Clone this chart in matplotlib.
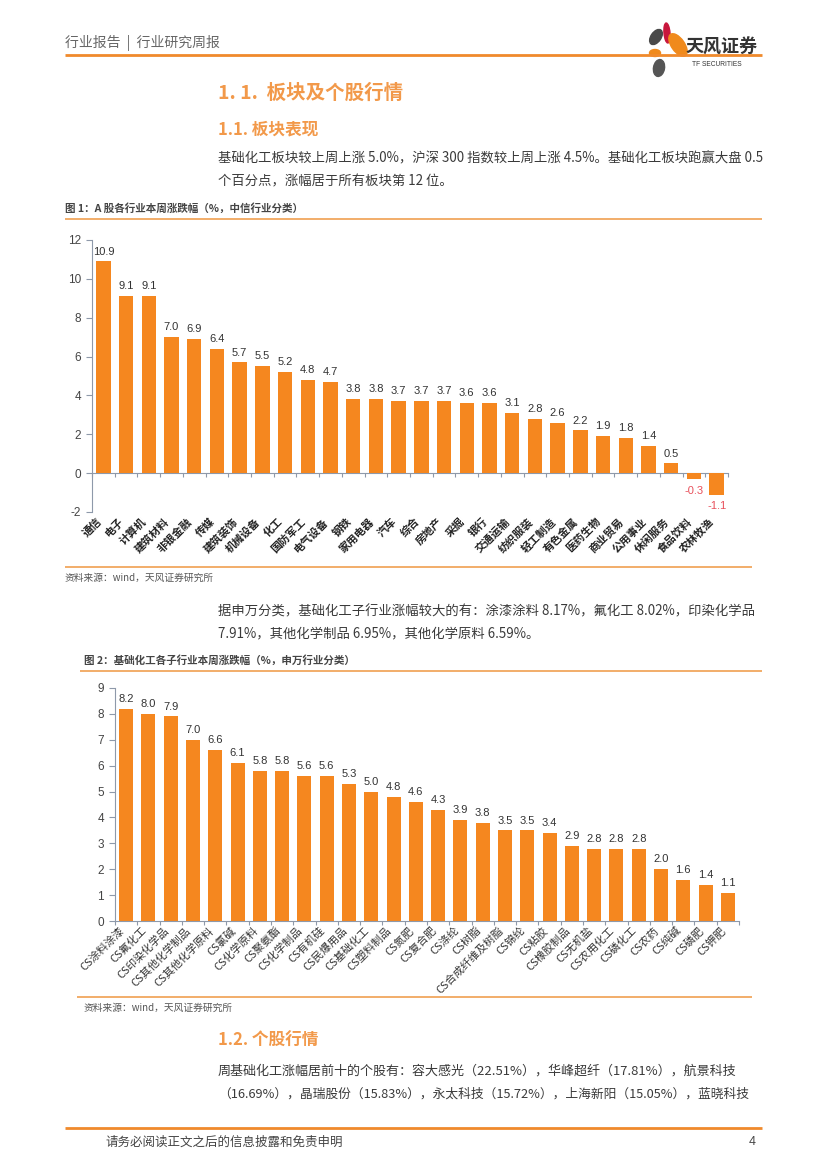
import numpy as np
import matplotlib.pyplot as plt
from matplotlib.patches import Ellipse

plt.rcParams['font.family'] = ['Noto Sans CJK SC', 'DejaVu Sans']

W, H = 827, 1169

# 图1: 中信行业本周涨跌幅(%)
industries = ['通信', '电子', '计算机', '建筑材料', '非银金融', '传媒', '建筑装饰',
              '机械设备', '化工', '国防军工', '电气设备', '钢铁', '家用电器', '汽车',
              '综合', '房地产', '采掘', '银行', '交通运输', '纺织服装', '轻工制造',
              '有色金属', '医药生物', '商业贸易', '公用事业', '休闲服务', '食品饮料',
              '农林牧渔']
industry_chg = [10.9, 9.1, 9.1, 7.0, 6.9, 6.4, 5.7, 5.5, 5.2, 4.8, 4.7, 3.8, 3.8, 3.7,
                3.7, 3.7, 3.6, 3.6, 3.1, 2.8, 2.6, 2.2, 1.9, 1.8, 1.4, 0.5, -0.3, -1.1]

# 图2: 基础化工各子行业本周涨跌幅(%)
sub_industries = ['CS涂料涂漆', 'CS氟化工', 'CS印染化学品', 'CS其他化学制品',
                  'CS其他化学原料', 'CS氯碱', 'CS化学原料', 'CS聚氨酯', 'CS化学制品',
                  'CS有机硅', 'CS民爆用品', 'CS基础化工', 'CS塑料制品', 'CS氮肥',
                  'CS复合肥', 'CS涤纶', 'CS树脂', 'CS合成纤维及树脂', 'CS锦纶', 'CS粘胶',
                  'CS橡胶制品', 'CS无机盐', 'CS农用化工', 'CS磷化工', 'CS农药', 'CS纯碱',
                  'CS磷肥', 'CS钾肥']
sub_chg = [8.2, 8.0, 7.9, 7.0, 6.6, 6.1, 5.8, 5.8, 5.6, 5.6, 5.3, 5.0, 4.8, 4.6,
           4.3, 3.9, 3.8, 3.5, 3.5, 3.4, 2.9, 2.8, 2.8, 2.8, 2.0, 1.6, 1.4, 1.1]

BAR = '#F5871F'
AXIS = '#8e99aa'
TXT = '#3a3a3a'
HEAD = '#F2994A'
RULE = '#F0A050'
NEG = '#E8505B'
NUM = ['Liberation Sans', 'DejaVu Sans']

fig = plt.figure(figsize=(W / 100, H / 100), dpi=100)


def box(left, top, right, bottom):
    return [left / W, 1 - bottom / H, (right - left) / W, (bottom - top) / H]


def bar_chart(ax, names, vals, ymin, ymax, step, width):
    n = len(vals)
    x = np.arange(n)
    ax.bar(x, vals, width=width, color=BAR, zorder=2)
    ax.set_xlim(-0.5, n - 0.5)
    ax.set_ylim(ymin, ymax)
    ax.set_yticks(np.arange(ymin, ymax + 0.01, step))
    ax.set_yticklabels([f'{t:g}' for t in np.arange(ymin, ymax + 0.01, step)],
                       family=NUM, fontsize=8.5, color='#444444')
    ax.tick_params(axis='y', length=4, width=0.8, color=AXIS, pad=4)
    ax.set_xticks(x)
    ax.set_xticklabels(names, rotation=45, ha='right', va='top', fontsize=7.8,
                       color='#222222', fontweight='bold')
    ax.tick_params(axis='x', which='major', length=0, pad=3)
    for s in ['top', 'right']:
        ax.spines[s].set_visible(False)
    ax.spines['left'].set_color(AXIS)
    ax.spines['left'].set_linewidth(0.8)
    ax.set_facecolor('none')
    for i, v in enumerate(vals):
        if v >= 0:
            ax.annotate(f'{v:.1f}', (i, v), xytext=(0, 3.5), textcoords='offset points',
                        ha='center', va='bottom', fontsize=8, color='#333333', family=NUM)
        else:
            ax.annotate(f'{v:.1f}', (i, v), xytext=(0, -5), textcoords='offset points',
                        ha='center', va='top', fontsize=8, color=NEG, family=NUM)
    return np.arange(-0.5, n, 1)


# chart 1
ax1 = fig.add_axes(box(92, 240, 728, 512))
b1 = bar_chart(ax1, industries, industry_chg, -2, 12, 2, 0.64)
ax1.spines['bottom'].set_visible(False)
zero = ax1.secondary_xaxis((0 - (-2)) / 14)
zero.set_xticks(b1)
zero.tick_params(length=3, width=0.8, color=AXIS, labelbottom=False, labeltop=False)
for s in zero.spines.values():
    s.set_color(AXIS)
    s.set_linewidth(0.8)

# chart 2
ax2 = fig.add_axes(box(115, 688, 739, 921))
b2 = bar_chart(ax2, sub_industries, sub_chg, 0, 9, 1, 0.63)
ax2.spines['bottom'].set_color(AXIS)
ax2.spines['bottom'].set_linewidth(0.8)
ax2.set_xticks(b2, minor=True)
ax2.tick_params(axis='x', which='minor', length=3, width=0.8, color=AXIS)
for lab in ax2.get_xticklabels():
    lab.set_fontweight('normal')
    lab.set_color('#333333')

# page layer in pixel coordinates
pg = fig.add_axes([0, 0, 1, 1])
pg.set_xlim(0, W)
pg.set_ylim(H, 0)
pg.axis('off')
pg.set_zorder(-1)


def txt(x, y, s, size, color=TXT, **kw):
    pg.text(x, y, s, fontsize=size, color=color, va='center', ha=kw.pop('ha', 'left'), **kw)


def rule(x0, x1, y, lw=1.2, color=RULE):
    pg.plot([x0, x1], [y, y], color=color, lw=lw, solid_capstyle='butt')


# header
txt(65, 43, '行业报告  |  行业研究周报', 10, color='#666666')
rule(65, 762, 55, lw=2.0, color='#F08A2C')
pg.add_patch(Ellipse((656, 37), 10, 17, angle=35, color='#4a4a4a'))
pg.add_patch(Ellipse((667, 33), 6, 20, angle=-5, color='#C8163C'))
pg.add_patch(Ellipse((678, 45), 13, 26, angle=-35, color='#F08A1C'))
pg.add_patch(Ellipse((655, 53), 11, 7, angle=0, color='#F08A1C'))
pg.add_patch(Ellipse((659, 68), 11, 17, angle=10, color='#555555'))
txt(686, 47, '天风证券', 13, color='#333333', fontweight='bold')
txt(692, 64, 'TF SECURITIES', 4.8, color='#333333', family=NUM)

# section 1
txt(218, 93, '1. 1.  板块及个股行情', 14, color=HEAD, fontweight='bold')
txt(218, 129, '1.1. 板块表现', 12, color=HEAD, fontweight='bold')
txt(218, 158, '基础化工板块较上周上涨 5.0%，沪深 300 指数较上周上涨 4.5%。基础化工板块跑赢大盘 0.5', 9.6)
txt(218, 181, '个百分点，涨幅居于所有板块第 12 位。', 9.6)

txt(65, 208, '图 1：A 股各行业本周涨跌幅（%，中信行业分类）', 7.6, color='#444444', fontweight='bold')
rule(65, 762, 219)
rule(65, 752, 567)
txt(65, 578, '资料来源：wind，天风证券研究所', 7, color='#555555')

txt(218, 611, '据申万分类，基础化工子行业涨幅较大的有：涂漆涂料 8.17%，氟化工 8.02%，印染化学品', 9.6)
txt(218, 633, '7.91%，其他化学制品 6.95%，其他化学原料 6.59%。', 9.6)

txt(84, 660, '图 2：基础化工各子行业本周涨跌幅（%，申万行业分类）', 7.6, color='#444444', fontweight='bold')
rule(80, 762, 671)
rule(77, 752, 997)
txt(84, 1008, '资料来源：wind，天风证券研究所', 7, color='#555555')

txt(218, 1041, '1.2. 个股行情', 12, color=HEAD, fontweight='bold')
txt(218, 1071, '周基础化工涨幅居前十的个股有：容大感光（22.51%），华峰超纤（17.81%），航景科技', 9.4)
txt(218, 1094, '（16.69%），晶瑞股份（15.83%），永太科技（15.72%），上海新阳（15.05%），蓝晓科技', 9.2)

# footer
rule(65, 762, 1128, lw=2.0, color='#F08A2C')
txt(105, 1142, '请务必阅读正文之后的信息披露和免责申明', 9, color='#444444')
txt(756, 1142, '4', 9, color='#444444', ha='right', family=NUM)

fig.savefig('out.png', dpi=100)
